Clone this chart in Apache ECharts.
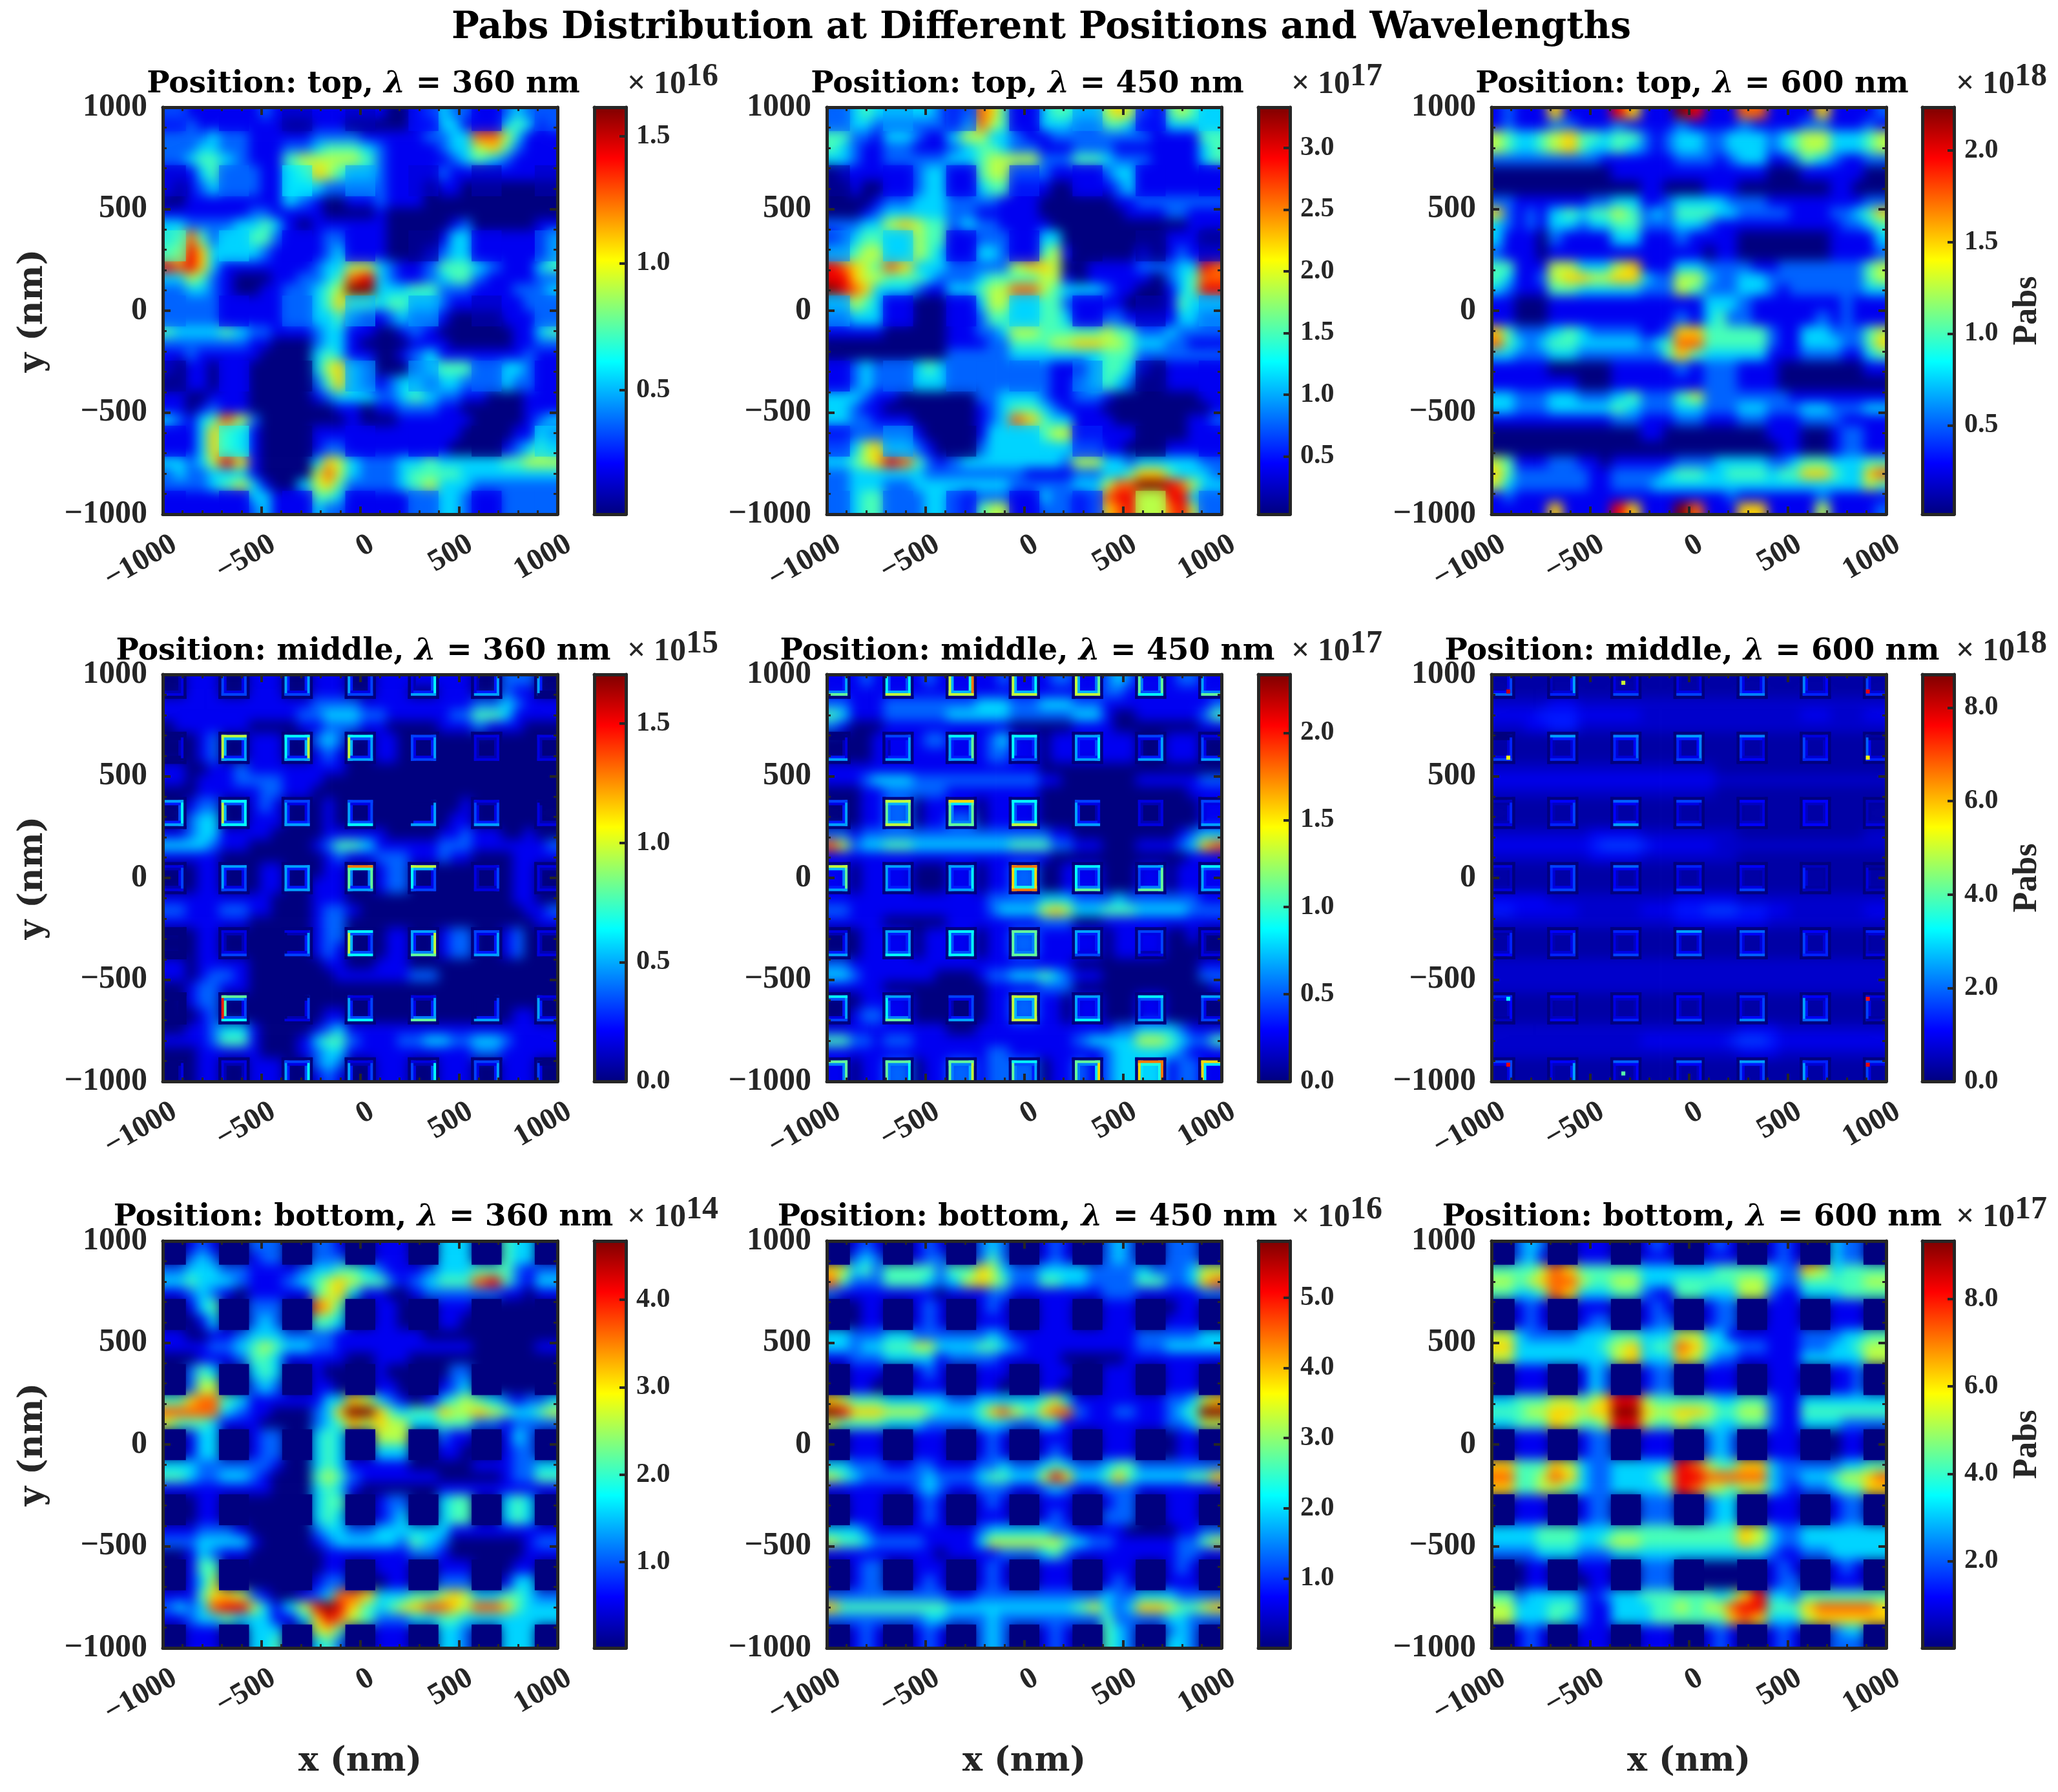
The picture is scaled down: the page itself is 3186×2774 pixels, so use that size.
<!DOCTYPE html>
<html><head><meta charset="utf-8">
<style>html,body{margin:0;padding:0;background:#fff}#c{width:3186px;height:2774px}</style>
<script src="https://cdn.jsdelivr.net/npm/echarts@6/dist/echarts.min.js"></script>
</head><body><div id="c"></div>
<script>
// Each row: 32 colour-levels (0-9), top row first.
const top360=[
"22 111 11 121 11 111 11 100 12 322 11 232 22","11 211 11 111 00 111 00 000 11 331 11 343 12",
"22 223 22 111 11 222 21 111 12 233 77 531 11","22 233 22 111 22 344 43 211 11 233 56 421 11","22 344 32 111 45 555 54 211 11 123 43 211 11",
"11 134 22 211 34 654 33 211 11 211 11 111 11","10 123 22 211 33 322 22 211 10 110 00 000 00",
"00 111 11 111 32 100 11 211 10 000 00 000 00","11 111 11 221 11 100 00 100 00 000 00 000 00","33 222 23 343 10 111 11 100 00 012 00 000 11",
"34 742 33 442 11 122 11 100 00 133 11 111 13","45 863 33 321 11 123 11 100 01 233 11 111 13",
"87 863 11 111 11 233 55 321 12 444 32 111 34","33 542 10 001 12 234 78 321 12 344 21 111 22","22 332 10 011 22 345 99 333 44 222 11 122 23",
"22 222 11 111 22 346 44 344 33 211 11 112 22","22 222 11 111 22 334 21 123 22 100 00 111 22",
"43 333 43 221 11 233 11 001 21 000 00 011 34","22 222 22 110 00 233 10 000 11 100 00 011 22","11 211 11 100 00 343 11 001 23 111 11 112 11",
"10 110 11 000 00 356 32 000 23 444 22 332 11","00 110 11 000 00 246 32 123 32 332 22 322 11",
"11 001 11 000 00 123 33 223 43 221 10 001 11","11 012 11 000 00 001 10 112 22 110 00 001 11","32 134 75 200 00 000 10 001 11 111 00 001 23",
"11 136 43 100 00 111 11 111 11 110 00 011 32","11 136 43 100 00 122 11 111 11 100 00 123 43",
"33 235 86 100 00 365 32 223 34 333 33 445 55","23 223 33 100 00 575 32 223 44 443 33 333 33","22 223 45 310 03 564 22 223 45 333 22 222 22",
"11 111 11 331 11 443 11 111 22 332 11 222 22","11 111 11 231 11 322 11 111 22 332 11 222 22"];
const top450=[
"22 343 33 332 12 764 11 344 33 565 21 454 33","22 332 22 222 13 754 11 333 22 443 11 333 33",
"44 221 33 211 35 533 21 122 22 222 21 111 44","43 211 22 111 23 443 22 111 22 211 11 111 34","33 211 22 222 33 455 55 222 44 322 21 111 34",
"01 111 11 233 11 455 22 211 11 233 11 111 11","00 100 11 233 11 344 11 100 11 123 11 111 11",
"00 001 22 333 22 221 11 000 00 011 22 222 22","00 012 33 333 22 111 11 000 00 001 11 221 11","22 233 56 544 23 221 11 100 00 000 00 001 11",
"12 344 33 544 11 222 11 330 00 000 00 111 00","33 455 33 543 11 332 11 451 00 000 10 121 11",
"87 654 76 333 22 222 56 650 01 111 22 233 87","88 655 44 432 22 344 44 551 01 111 10 234 77","98 763 33 211 33 455 77 543 33 211 00 134 88",
"33 543 11 000 11 355 33 442 11 110 00 143 33","22 333 11 000 11 244 33 443 11 221 11 133 22",
"11 111 00 000 11 223 55 444 44 544 22 322 22","00 000 00 000 11 122 44 455 66 554 33 221 11","00 000 00 000 22 222 33 333 33 444 22 222 22",
"11 232 22 343 22 222 22 211 13 443 10 111 11","11 232 22 333 22 222 22 211 23 432 00 111 11",
"33 321 10 000 00 223 33 211 22 100 00 000 11","33 211 00 000 00 123 44 321 11 000 00 000 01","33 221 11 000 00 123 76 433 11 100 00 001 12",
"11 222 22 100 00 133 33 455 11 111 00 001 11","22 356 33 210 00 233 33 333 22 110 00 111 11",
"33 456 87 421 23 333 33 332 55 332 33 333 22","22 333 33 322 22 222 21 111 22 334 66 433 32","22 333 22 333 33 333 22 222 33 577 99 875 33",
"22 344 22 233 21 222 11 322 12 788 55 883 22","22 344 22 233 21 455 11 222 12 678 55 785 22"];
const top600=[
"12 111 61 111 86 111 98 111 77 111 16 111 12","12 111 22 111 21 111 21 111 21 111 22 111 21",
"54 334 56 443 44 212 33 223 33 234 55 333 45","54 334 56 433 43 212 33 223 33 234 55 333 45","22 222 22 221 11 111 22 212 33 112 43 211 22",
"00 000 00 000 11 111 11 111 11 000 11 111 00","00 000 00 000 00 110 00 111 00 000 00 110 00",
"22 111 11 122 33 112 33 332 22 111 11 111 22","62 121 34 344 54 232 44 433 22 221 11 223 46","32 121 33 233 44 222 33 211 11 111 11 122 34",
"31 110 21 111 33 111 21 111 00 000 00 111 13","21 110 11 111 11 111 11 011 00 000 00 111 12",
"44 111 55 333 56 111 33 222 21 122 22 222 45","43 112 56 655 66 322 55 322 33 222 22 222 45","32 111 44 333 33 222 54 222 33 212 22 222 33",
"11 000 11 111 11 111 11 333 21 111 11 121 11","11 000 11 111 11 111 21 342 21 111 12 121 11",
"64 222 34 322 22 112 66 444 44 211 33 222 45","74 323 44 333 33 234 77 444 44 211 33 322 46","33 222 33 222 22 224 64 333 33 111 22 211 34",
"11 111 00 000 11 111 21 222 11 100 00 000 11","11 111 11 000 11 111 11 222 11 100 00 000 00",
"33 222 33 222 34 222 45 222 22 221 11 111 11","33 222 33 333 43 222 33 222 33 222 33 222 33","11 111 11 111 22 111 22 111 22 111 22 211 11",
"00 000 00 000 00 110 00 000 00 111 00 122 11","00 000 00 000 00 000 00 000 00 011 00 122 11",
"54 111 22 110 11 111 22 233 33 223 44 333 44","64 222 22 211 22 223 44 334 44 344 66 433 67","53 222 22 211 22 233 33 333 33 333 33 333 54",
"12 111 11 111 11 111 11 112 11 111 12 111 11","11 111 61 111 86 111 97 111 66 111 15 111 12"];
const middle360=[
"00 111 00 111 00 111 00 111 11 111 00 222 00","00 111 00 111 00 111 00 111 00 111 00 211 00",
"11 111 11 111 11 222 21 111 11 111 22 321 11","11 111 11 111 12 233 32 211 11 122 44 311 11","01 111 11 000 01 122 21 100 00 111 21 110 00",
"00 012 00 111 00 232 00 110 00 000 00 000 00","00 012 00 111 00 121 00 110 00 000 00 000 00",
"11 001 12 111 11 111 00 000 00 000 00 000 00","11 011 12 222 11 100 00 000 00 000 00 000 00","00 011 11 122 11 000 00 000 00 000 00 000 00",
"00 122 00 121 00 010 00 000 00 001 00 000 00","00 233 00 111 00 010 00 000 00 011 00 000 00",
"11 233 11 110 00 011 11 100 00 112 11 001 00","33 332 11 000 00 124 43 111 11 222 11 111 12","11 111 00 000 00 012 11 222 11 211 00 011 11",
"00 011 00 011 00 011 00 122 00 000 00 011 00","00 011 00 011 00 111 00 122 00 000 00 011 00",
"11 111 11 110 00 111 00 000 00 000 00 011 00","22 111 22 110 00 122 10 000 00 000 00 001 12","11 111 11 000 00 122 00 000 00 000 00 000 11",
"00 011 00 000 00 122 00 011 00 122 00 120 00","00 011 00 000 00 121 00 011 00 122 00 120 00",
"11 011 11 000 00 011 00 111 00 000 00 000 00","11 012 21 000 00 001 11 111 22 000 00 000 00","00 122 11 000 00 000 00 000 00 000 00 000 00",
"00 122 00 000 00 000 00 000 00 000 00 000 00","00 012 00 000 00 011 00 000 00 000 00 011 00",
"00 112 33 100 00 123 11 111 11 111 11 111 11","11 112 44 100 01 344 21 112 23 322 33 211 11","00 011 11 100 01 233 11 111 11 111 22 111 11",
"00 011 00 111 00 232 00 111 00 111 00 111 00","00 011 00 111 00 121 00 111 00 111 00 111 00"];
const middle450=[
"11 121 11 121 11 112 11 122 11 232 11 122 11","11 111 11 111 11 111 11 111 11 221 11 111 11",
"22 111 22 222 22 333 22 333 22 111 11 111 12","43 111 22 222 33 333 22 222 33 100 11 111 24","21 000 11 111 11 111 00 000 11 100 00 000 11",
"00 001 11 122 11 123 11 011 11 111 00 111 00","00 001 11 111 11 122 11 011 11 111 00 111 00",
"11 111 11 111 11 111 11 000 00 000 00 000 00","11 123 33 222 22 222 22 110 00 000 11 111 22","00 011 22 222 11 111 11 000 00 000 00 001 11",
"00 011 22 011 11 011 11 000 00 000 00 000 11","00 011 22 011 22 011 11 000 00 000 00 000 11",
"22 122 22 222 22 222 22 211 00 000 00 012 33","75 233 44 333 33 333 44 422 11 000 11 123 67","11 111 11 111 11 111 11 100 00 000 00 001 11",
"11 011 11 000 11 011 22 001 11 000 11 011 11","11 011 11 000 11 011 22 001 11 000 11 011 11",
"11 111 11 111 11 122 22 333 22 232 22 222 11","22 111 11 111 11 123 33 565 33 444 33 332 22","11 111 00 000 11 111 11 222 00 111 11 111 11",
"00 011 11 011 11 011 22 111 11 011 11 001 00","00 011 11 011 11 011 22 111 11 011 11 000 00",
"22 111 11 111 11 111 11 111 00 000 00 000 11","33 211 11 110 00 122 33 432 11 000 00 000 22","11 111 00 000 00 011 11 222 00 000 00 000 01",
"00 011 11 000 00 011 22 110 11 000 11 000 00","00 122 11 000 00 011 22 110 11 000 11 000 00",
"11 111 11 111 00 111 11 111 11 122 33 321 11","44 221 22 111 11 111 11 111 23 333 55 432 24","11 111 11 111 11 122 11 111 11 233 33 321 11",
"11 011 22 011 22 122 22 011 21 233 33 122 11","11 011 22 011 22 122 22 011 21 233 33 122 11"];
const middle600=[
"11 111 11 111 11 111 11 111 11 111 11 111 11","11 111 11 111 11 111 11 111 11 111 11 111 11",
"22 222 33 222 22 222 22 222 22 222 22 222 22","33 334 44 333 33 222 22 222 22 222 33 222 33","22 233 44 222 22 222 22 222 22 222 22 222 22",
"11 111 11 111 11 111 11 111 11 111 11 111 11","11 111 11 111 11 111 11 111 11 111 11 111 11",
"22 222 22 222 22 222 22 211 11 111 11 111 11","33 333 33 333 33 333 33 322 22 222 22 222 22","22 222 22 222 22 222 22 211 11 111 11 111 11",
"11 111 11 111 11 111 11 111 11 111 11 111 11","11 111 11 111 11 111 11 111 11 111 11 111 11",
"22 222 22 233 33 222 22 222 11 111 11 111 22","33 333 33 345 55 433 33 322 22 222 22 222 22","22 222 22 233 33 222 22 222 11 111 11 111 11",
"11 111 11 111 11 111 11 111 11 111 11 111 11","11 111 11 111 11 111 11 111 11 111 11 111 11",
"33 333 22 222 22 222 33 333 22 222 22 222 22","44 333 33 222 22 333 44 555 44 332 22 222 33","22 222 22 222 22 222 33 333 33 222 22 222 22",
"11 111 11 111 11 111 11 111 11 111 11 111 11","11 111 11 111 11 111 11 111 11 111 11 111 11",
"22 222 22 222 22 222 22 222 22 222 22 222 22","22 222 22 222 22 222 22 222 22 222 22 222 22","22 222 22 222 22 222 22 222 22 222 22 222 22",
"11 111 11 111 11 111 11 111 11 111 11 111 11","11 111 11 111 11 111 11 111 11 111 11 111 11",
"22 222 22 222 22 222 22 222 33 322 22 222 22","22 222 22 222 22 333 33 334 55 433 33 333 33","22 222 22 222 22 222 22 222 33 322 22 222 22",
"11 111 11 111 11 111 11 111 11 111 11 111 11","11 111 11 111 11 111 11 111 11 111 11 111 11"];
const bottom360=[
"00 121 00 222 00 221 00 111 00 333 00 433 00","00 232 00 122 00 222 00 111 00 333 00 433 00",
"22 333 22 111 12 334 43 211 12 333 44 421 22","33 433 32 111 23 456 54 421 23 444 78 421 33","11 232 10 111 11 456 31 100 12 222 22 110 11",
"00 134 00 222 00 764 00 110 00 111 00 000 00","00 013 00 232 00 443 00 110 00 110 00 000 00",
"11 001 12 333 22 221 11 111 10 000 00 000 00","11 112 23 454 33 221 11 111 11 111 00 000 11","00 011 12 443 11 111 00 111 00 000 00 000 00",
"00 243 00 343 00 100 00 100 00 022 00 000 00","00 255 00 232 00 110 00 110 00 123 00 000 00",
"44 677 43 111 11 133 65 321 01 345 43 212 23","77 777 32 110 00 236 99 643 44 655 65 433 45","54 443 11 100 00 234 65 655 33 444 22 122 22",
"00 133 00 122 00 343 00 555 00 211 00 132 00","00 133 00 122 00 343 00 333 00 110 00 122 00",
"33 322 22 221 00 343 11 111 00 000 11 122 33","44 322 33 210 00 454 21 111 11 000 00 122 44","11 111 11 110 00 343 10 000 00 111 11 111 11",
"00 011 00 000 00 344 00 122 00 344 00 343 00","00 011 00 000 00 343 00 123 00 344 00 343 00",
"11 122 21 000 00 233 22 333 33 311 11 111 11","22 233 33 100 00 123 33 332 43 200 00 001 22","00 132 11 000 00 011 11 111 22 100 00 001 11",
"00 144 00 000 00 011 00 111 00 111 00 011 00","00 135 00 000 00 122 00 011 00 222 00 133 00",
"11 146 65 210 01 237 76 333 44 565 33 443 22","23 237 88 531 35 898 64 345 67 765 77 643 33","11 233 43 331 13 687 54 222 33 443 33 333 33",
"00 111 00 333 00 564 00 111 00 332 00 333 00","00 111 00 334 00 342 00 111 00 332 00 333 00"];
const bottom450=[
"00 121 00 121 00 232 00 121 00 232 00 222 00","00 232 00 122 00 242 00 121 00 232 00 222 00",
"65 342 44 442 44 653 22 333 32 222 32 223 55","74 222 44 432 35 654 22 443 32 222 44 223 67","21 111 11 110 11 122 11 111 11 222 11 111 22",
"00 011 00 121 00 121 00 111 00 111 00 011 00","00 011 00 121 00 111 00 111 00 111 00 111 00",
"33 222 33 222 22 232 11 111 11 111 22 222 33","33 233 44 553 33 443 21 111 11 111 22 333 33","11 222 33 331 22 221 11 110 00 001 11 111 11",
"00 111 00 121 00 111 00 111 00 111 00 111 00","00 110 00 111 00 110 00 110 00 111 00 111 00",
"65 444 33 333 22 333 33 453 11 111 11 223 56","98 666 55 543 33 467 54 677 21 122 11 234 99","54 444 33 322 22 333 22 331 11 111 11 223 55",
"00 111 00 111 00 121 00 111 00 111 00 011 00","00 111 00 111 00 121 00 121 00 111 00 011 00",
"33 222 11 221 11 223 22 343 22 344 22 222 22","54 322 22 232 22 344 33 586 33 464 33 334 46","11 111 11 232 11 222 11 232 11 222 11 111 11",
"00 111 00 121 00 121 00 111 00 122 00 111 00","00 111 00 121 00 111 00 121 00 222 00 111 00",
"33 321 11 111 11 233 33 322 11 110 00 011 22","54 432 22 211 11 355 55 554 32 211 11 122 45","11 111 11 110 11 112 22 342 11 111 11 122 11",
"00 122 00 111 00 121 00 111 00 111 00 121 00","00 122 00 121 00 121 00 111 00 121 00 111 00",
"22 222 22 222 11 222 22 222 22 322 33 322 22","64 444 44 444 33 333 33 333 45 323 66 544 56","22 222 22 233 22 232 22 222 22 422 22 332 22",
"00 121 00 121 00 232 00 121 00 432 00 232 00","00 121 00 121 00 232 00 121 00 432 00 332 00"];
const bottom600=[
"00 232 00 111 00 121 00 121 00 121 00 322 00","00 231 00 111 00 111 00 111 00 121 00 322 00",
"44 445 76 444 44 333 33 344 44 322 65 344 44","55 456 77 544 55 333 44 444 55 322 44 444 55","44 334 76 333 44 211 44 333 55 211 33 344 44",
"00 121 00 111 00 121 00 122 00 111 00 111 00","00 121 00 122 00 122 00 122 00 111 00 111 00",
"55 322 22 333 44 333 55 331 11 111 22 233 44","66 333 33 334 56 344 76 433 22 111 22 334 55","55 333 33 333 56 333 65 322 11 111 33 333 55",
"00 111 00 132 00 122 00 111 00 111 00 112 00","00 111 00 132 00 122 00 111 00 111 00 112 00",
"33 444 55 456 88 544 44 433 44 211 33 333 33","44 455 66 566 99 655 66 544 55 211 44 444 44","33 444 65 445 88 544 54 433 44 211 33 322 22",
"00 111 00 122 00 111 00 232 00 111 00 011 00","00 111 00 122 00 111 00 232 00 111 00 011 00",
"66 444 65 322 33 333 87 544 66 322 22 233 44","77 445 76 322 33 345 88 777 77 322 33 455 67","66 445 54 322 33 334 87 554 55 321 22 344 66",
"00 111 00 122 00 222 00 233 00 111 00 122 00","00 111 00 122 00 222 00 233 00 111 00 122 00",
"33 334 44 333 44 444 44 444 65 322 33 333 33","33 334 44 334 55 444 44 444 65 322 33 333 33","22 223 33 222 33 333 33 333 33 211 22 333 33",
"00 011 00 111 00 222 00 000 00 121 00 121 00","00 011 00 011 00 222 00 000 00 122 00 111 00",
"44 233 33 212 33 444 44 434 68 332 44 444 44","55 333 44 211 33 344 54 557 88 444 67 777 76","55 333 43 211 33 344 44 446 76 333 56 666 66",
"00 121 00 111 00 111 00 121 00 121 00 233 00","00 121 00 111 00 111 00 121 00 121 00 222 00"];
// Rim brightness of every hole in the middle row: left, top, right, bottom levels.
const middle360Rims=[
"0011 2022 3032 3022 1043 1033 3010","0010 6633 4463 6433 2232 1111 1111",
"0343 6444 3223 3224 0033 2123 1011","1121 3322 3333 5853 4622 1121 1111",
"0000 1112 0132 6424 3365 2233 1111","0000 9524 0021 3124 2135 0023 3112",
"0010 1110 3240 3120 2140 2230 2010"];
const middle450Rims=[
"0035 4046 6086 6046 6056 5054 3015","0013 1233 3453 4432 3343 1233 2113",
"0233 5656 5755 4446 3213 1111 2213","4653 3323 3343 7878 4435 2355 3413",
"0123 3334 4444 5555 3332 2221 1111","1432 4325 1223 6666 3334 2433 2312",
"2550 5540 5560 5430 5570 7880 7720"];
const middle600Rims=[
"0067 2095 3036 3036 6068 8045 6025","0056 3955 5875 5986 5834 6345 7125",
"0253 3465 4739 3625 2434 4444 2213","1323 5666 4735 3536 3426 5222 3112",
"0254 3465 3546 5957 5757 6455 2523","0542 2424 3435 4436 3568 9457 6322",
"0660 3490 3740 3740 6960 9550 6620"];
// Bright corner specks in the middle 600 nm panel: x, y, value.
const middle600Specks=[[-916,917,8.0],[-916,592,5.5],[-916,-593,3.2],[-916,-917,7.8],[906,917,7.8],[906,592,5.5],[906,-593,7.5],[906,-917,7.8],[-333,960,5.0],[-333,-960,4.0]];
const panelData=[top360,top450,top600,middle360,middle450,middle600,bottom360,bottom450,bottom600];
const panelRims={3:middle360Rims,4:middle450Rims,5:middle600Rims};
const positions=["top","middle","bottom"];
const wavelengths=[360,450,600];
const colorMax=[1.615,3.33,2.236,1.706,2.335,8.71,4.67,5.81,9.33];
const colorMin=[0.01,0.03,0.015,0,0,0,0.02,0.01,0.01];
const levelTop=[9,9,9,9,9,27,9,9,9];
const exponents=[16,17,18,15,17,18,14,16,17];
const colorTicks=[[0.5,1,1.5],[0.5,1,1.5,2,2.5,3],[0.5,1,1.5,2],[0,0.5,1,1.5],[0,0.5,1,1.5,2],[0,2,4,6,8],[1,2,3,4],[1,2,3,4,5],[2,4,6,8]];
const cellEdges=[-1000,-942,-885,-828,-772,-715,-640,-565,-508,-452,-395,-320,-245,-188,-132,-75,0,75,132,188,245,320,395,452,508,565,640,715,772,828,885,942,1000];
const holeCentres=[-960,-640,-320,0,320,640,960];
const holeStarts=[0,5,10,15,20,25,30];
const jet=['#00007f','#0000ff','#007fff','#00ffff','#7fff7f','#ffff00','#ff7f00','#ff0000','#7f0000'];

const INK='#262626',FONT='"Liberation Serif",serif',HEAD='"DejaVu Serif",serif';
const colLeft=[252,1280,2309],rowTop=[166,1044,1921],PW=611,PH=630;
const barLeft=[920,1948,2976],BW=49;
const expLeft=[966,1994,3023];
const titleY=[126,1004,1880];

function parse(rows){return rows.map(r=>r.replace(/\s/g,'').split('').map(Number));}
function cellItems(i){
  const g=parse(panelData[i]),k=colorMax[i]/levelTop[i],out=[];
  g.forEach((row,r)=>row.forEach((v,c)=>{
    out.push([cellEdges[c],cellEdges[c+1],-cellEdges[r+1],-cellEdges[r],v*k]);
  }));
  return {g,out};
}
function holeItems(g,i){
  const k=colorMax[i]/levelTop[i],out=[];
  holeStarts.forEach(rs=>holeStarts.forEach(cs=>{
    const m=(g[rs][cs]+g[rs][cs+1]+g[rs+1][cs]+g[rs+1][cs+1])/4;
    out.push([cellEdges[cs],cellEdges[cs+2],-cellEdges[rs+2],-cellEdges[rs],m*k]);
  }));
  return out;
}
function rimItems(i){
  const k=colorMax[i]/levelTop[i],out=[],O=78,R=63,T=11,I=13;
  panelRims[i].forEach((line,r)=>line.split(' ').forEach((s,c)=>{
    const x=holeCentres[c],y=holeCentres[6-r],[L,U,Ri,B]=s.split('').map(Number);
    out.push([x-O,x-R,y-O,y+O,0],[x+R,x+O,y-O,y+O,0],[x-O,x+O,y+R,y+O,0],[x-O,x+O,y-O,y-R,0]);
    const f=0.45,a=0.85;
    out.push([x-R+T,x-R+T+I,y-R,y+R,L*k*f],[x+R-T-I,x+R-T,y-R,y+R,Ri*k*f],[x-R,x+R,y+R-T-I,y+R-T,U*k*f],[x-R,x+R,y-R+T,y-R+T+I,B*k*f]);
    out.push([x-R,x-R+T,y-R,y+R,L*k*a],[x+R-T,x+R,y-R,y+R,Ri*k*a],[x-R,x+R,y+R-T,y+R,U*k*a],[x-R,x+R,y-R,y-R+T,B*k*a]);
  }));
  if(i===5) middle600Specks.forEach(s=>out.push([s[0]-9,s[0]+9,s[1]-9,s[1]+9,s[2]]));
  return out;
}
function drawCell(extend,alpha){
  return function(params,api){
    const a=api.coord([api.value(0),api.value(3)]),b=api.coord([api.value(1),api.value(2)]);
    let x=a[0],y=a[1],w=b[0]-a[0],h=b[1]-a[1];
    if(extend){
      if(api.value(0)<=-1000){x-=30;w+=30}
      if(api.value(1)>=1000){w+=30}
      if(api.value(3)>=1000){y-=30;h+=30}
      if(api.value(2)<=-1000){h+=30}
    }
    return {type:'rect',shape:{x,y,width:w+0.6,height:h+0.6},style:{fill:api.visual('color'),opacity:alpha}};
  };
}
function drawBar(params,api){
  const a=api.coord([0,api.value(1)]),b=api.coord([1,api.value(0)]);
  return {type:'rect',shape:{x:a[0],y:a[1],width:b[0]-a[0],height:b[1]-a[1]},
    style:{fill:new echarts.graphic.LinearGradient(0,1,0,0,jet.map((c,n)=>({offset:n/8,color:c})))}};
}
const minus=v=>String(v).replace('-','\u2212');
const line={show:true,onZero:false,lineStyle:{color:INK,width:5}};
const grid=[],xAxis=[],yAxis=[],series=[],visualMap=[];
const title=[{text:'Pabs Distribution at Different Positions and Wavelengths',left:1607,top:39,textAlign:'center',textVerticalAlign:'middle',zlevel:1,
  textStyle:{fontFamily:HEAD,fontWeight:'bold',fontSize:57,color:'#000'}}];

for(let i=0;i<9;i++){
  const r=Math.floor(i/3),c=i%3,gi=grid.length;
  const mk=(o)=>Object.assign({zlevel:1,z:10,min:-1000,max:1000,interval:500,type:'value',splitLine:{show:false},axisLine:line,
    axisTick:{show:true,inside:true,length:12,lineStyle:{color:INK,width:4}},
    minorTick:{show:true,splitNumber:5,length:6,lineStyle:{color:INK,width:3}},minorSplitLine:{show:false}},o);
  grid.push({left:colLeft[c],top:rowTop[r],width:PW,height:PH});
  xAxis.push(mk({gridIndex:gi,position:'bottom',
    axisLabel:{rotate:30,margin:54,padding:[0,-21,0,0],fontFamily:FONT,fontWeight:'bold',fontSize:47,color:INK,formatter:minus,hideOverlap:false},
    ...(r===2?{name:'x (nm)',nameLocation:'middle',nameGap:150,nameTextStyle:{fontFamily:HEAD,fontWeight:'bold',fontSize:52,color:INK}}:{})}));
  xAxis.push(mk({gridIndex:gi,position:'top',axisLabel:{show:false}}));
  yAxis.push(mk({gridIndex:gi,position:'left',
    axisLabel:{margin:24,fontFamily:FONT,fontWeight:'bold',fontSize:50,color:INK,formatter:minus},
    ...(c===0?{name:'y (nm)',nameLocation:'middle',nameGap:175,nameTextStyle:{fontFamily:HEAD,fontWeight:'bold',fontSize:52,color:INK}}:{})}));
  yAxis.push(mk({gridIndex:gi,position:'right',axisLabel:{show:false}}));
  const {g,out}=cellItems(i);
  const ax={xAxisIndex:xAxis.length-2,yAxisIndex:yAxis.length-2};
  const enc={x:[0,1],y:[2,3]};
  const seriesIdx=[series.length];
  series.push({type:'custom',...ax,zlevel:0,silent:true,animation:false,renderItem:drawCell(true,1),encode:enc,data:out});
  let over=null;
  if(panelRims[i]) over=rimItems(i);
  else if(i!==2) over=holeItems(g,i);
  if(over){seriesIdx.push(series.length);
    series.push({type:'custom',...ax,zlevel:1,z:2,clip:true,silent:true,animation:false,renderItem:drawCell(false,r===0?0.5:1),encode:enc,data:over});}
  visualMap.push({show:false,type:'continuous',seriesIndex:seriesIdx,dimension:4,min:0,max:colorMax[i],inRange:{color:jet}});

  // colour bar
  const bi=grid.length;
  grid.push({left:barLeft[c],top:rowTop[r],width:BW,height:PH});
  const barX=(pos)=>({type:'value',gridIndex:bi,position:pos,min:0,max:1,zlevel:1,z:10,axisLine:line,axisTick:{show:false},axisLabel:{show:false},splitLine:{show:false}});
  xAxis.push(barX('bottom'),barX('top'));
  const barY=(pos,lab)=>({type:'value',gridIndex:bi,position:pos,min:colorMin[i],max:colorMax[i],zlevel:1,z:10,axisLine:line,splitLine:{show:false},
    axisTick:lab?{show:true,inside:true,length:10,customValues:colorTicks[i],lineStyle:{color:INK,width:4}}:{show:false},
    axisLabel:lab?{show:true,margin:16,customValues:colorTicks[i],fontFamily:FONT,fontWeight:'bold',fontSize:42,color:INK,formatter:v=>Number(v).toFixed(1)}:{show:false},
    ...(lab&&c===2?{name:'Pabs',nameLocation:'middle',nameRotate:90,nameGap:88,nameTextStyle:{fontFamily:FONT,fontWeight:'bold',fontSize:52,color:INK}}:{})});
  yAxis.push(barY('left',false),barY('right',true));
  series.push({type:'custom',xAxisIndex:xAxis.length-2,yAxisIndex:yAxis.length-2,zlevel:1,z:2,silent:true,animation:false,
    renderItem:drawBar,encode:{y:[0,1]},data:[[colorMin[i],colorMax[i]]]});

  title.push({text:`{a|Position: ${positions[r]}, }{l|\u03bb}{a| = ${wavelengths[c]} nm}`,left:colLeft[c]+PW/2,top:titleY[r],textAlign:'center',textVerticalAlign:'middle',zlevel:1,
    textStyle:{rich:{a:{fontFamily:HEAD,fontWeight:'bold',fontSize:47,color:'#000'},l:{fontFamily:HEAD,fontStyle:'italic',fontWeight:'bold',fontSize:47,color:'#000'}}}});
  title.push({text:`{a|\u00d7 10}{s|${exponents[i]}}`,left:expLeft[c],top:titleY[r],textVerticalAlign:'middle',zlevel:1,
    textStyle:{rich:{a:{fontFamily:FONT,fontSize:50,color:INK},s:{fontFamily:FONT,fontWeight:'bold',fontSize:50,color:INK,padding:[0,0,24,0]}}}});
}
const el=document.getElementById('c');
const chart=echarts.init(el,null,{renderer:'canvas',width:3186,height:2774});
chart.setOption({animation:false,title,grid,xAxis,yAxis,series,visualMap});
const base=el.querySelector('canvas[data-zr-dom-id="zr_0"]');
if(base){
  let p='';
  rowTop.forEach(t=>colLeft.forEach(l=>{p+=`M${l} ${t}h${PW}v${PH}h${-PW}z`;}));
  base.style.filter='blur(9px)';
  base.style.clipPath=`path("${p}")`;
}
</script></body></html>
